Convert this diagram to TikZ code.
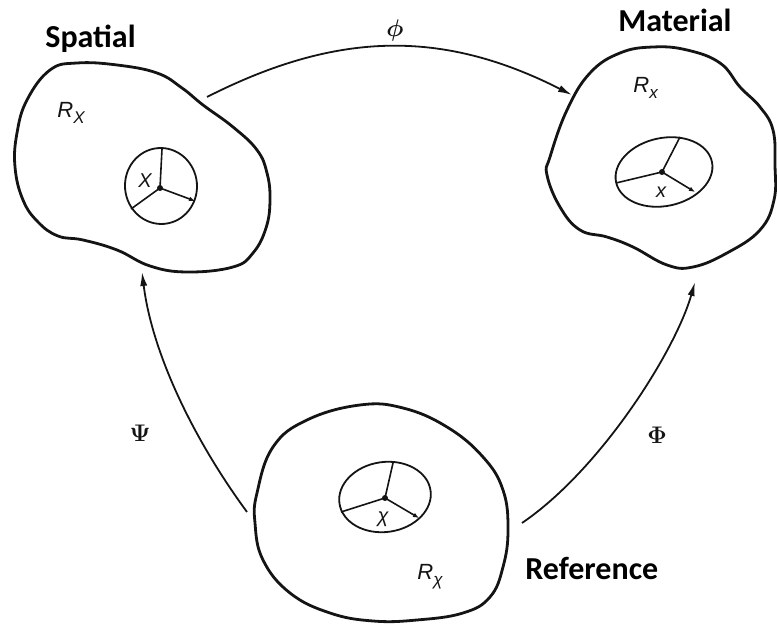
\documentclass[tikz,border=0pt]{standalone}
\usepackage{fontspec}
\newfontfamily\titlefont{Carlito}
\newfontfamily\labelfont{Liberation Sans}
\usetikzlibrary{arrows.meta}

\definecolor{ink}{RGB}{20,20,20}

\tikzset{
    line cap=round,
    line join=round,
    blob/.style={
        draw=ink,
        line width=1.4pt
    },
    cell/.style={
        draw=ink,
        line width=0.9pt
    },
    spoke/.style={
        draw=ink,
        line width=0.8pt
    },
    basis/.style={
        spoke,
        -{Latex[length=3pt,width=2.4pt]}
    },
    mapping/.style={
        draw=ink,
        line width=0.9pt,
        -{Latex[length=7pt,width=3.6pt]}
    },
    frametitle/.style={
        font=\titlefont\bfseries\fontsize{16}{19}\selectfont,
        text=black,
        inner sep=0pt,
        anchor=base west
    },
    region/.style={
        font=\labelfont\itshape\fontsize{11}{13}\selectfont,
        text=ink,
        inner sep=0pt,
        anchor=base west
    },
    point/.style={
        font=\labelfont\itshape\fontsize{10}{12}\selectfont,
        text=ink,
        inner sep=0pt
    },
    maplabel/.style={
        font=\boldmath\fontsize{13}{15}\selectfont,
        text=ink,
        inner sep=0pt
    }
}

\newcommand{\regionsub}[1]{R\raisebox{-0.45ex}{\fontsize{8.5}{10}\selectfont #1}}

\begin{document}
\begin{tikzpicture}[x=0.5pt, y=-0.5pt]
\useasboundingbox (0,0) rectangle (777,624);

% configurations
\draw[blob] plot[smooth cycle, tension=0.7] coordinates {
    (50,70) (77,63) (117,65) (157,73) (182,88) (203,105) (233,127) (257,150)
    (267,173) (270,200) (266,228) (253,253) (233,267) (187,272) (150,266)
    (117,250) (83,240) (58,236) (38,222) (23,200) (15,167) (17,133) (27,100)
};
\draw[blob] plot[smooth cycle, tension=0.7] coordinates {
    (550,157) (567,110) (590,73) (620,53) (653,47) (687,50) (720,63) (740,87)
    (760,107) (773,130) (775,165) (774,200) (760,230) (727,253) (693,267)
    (667,265) (633,247) (607,237) (580,230) (560,207) (547,175)
};
\draw[blob] plot[smooth cycle, tension=0.7] coordinates {
    (360,405) (403,408) (447,427) (483,457) (503,490) (508,530) (503,567)
    (490,597) (463,613) (417,620) (373,621) (330,613) (290,593) (263,560)
    (255,523) (257,493) (273,447) (307,420)
};

% neighbourhoods with local frames
\draw[cell] (161,186) circle[x radius=36, y radius=38, rotate=5];
\draw[spoke] (160,188) -- (162,149);
\draw[spoke] (160,188) -- (131,209);
\draw[basis] (160,188) -- (195,201);
\fill[ink] (160,188) circle[radius=3];

\draw[cell] (664,172) circle[x radius=49, y radius=34, rotate=12];
\draw[spoke] (662,172) -- (680,137);
\draw[spoke] (662,172) -- (616,183);
\draw[basis] (662,172) -- (695,192);
\fill[ink] (662,172) circle[radius=3];

\draw[cell] (385,497) circle[x radius=46, y radius=35, rotate=8];
\draw[spoke] (385,498) -- (393,463);
\draw[spoke] (385,498) -- (341,512);
\draw[basis] (385,498) -- (419,518);
\fill[ink] (385,498) circle[radius=3];

% labels
\node[frametitle] (spatial) at (45,48) {Spatial};
\node[frametitle] (material) at (618,32) {Material};
\node[frametitle] (reference) at (525,580) {Reference};

\node[region] (spatial-region) at (57,118) {\regionsub{X}};
\node[region] (material-region) at (633,93) {\regionsub{x}};
\node[region] (reference-region) at (417,580) {\regionsub{χ}};

\node[point] (spatial-point) at (145,181) {X};
\node[point] (material-point) at (661,192) {x};
\node[point] (reference-point) at (383,519) {χ};

% mappings
\coordinate (spatial-phi) at (207,97);
\coordinate (material-phi) at (572,95);
\coordinate (reference-psi) at (247,512);
\coordinate (spatial-psi) at (142,272);
\coordinate (reference-Phi) at (522,523);
\coordinate (material-Phi) at (695,282);

\draw[mapping] (spatial-phi) .. controls +(130,-66) and +(-130,-66) .. (material-phi);
\draw[mapping] (reference-psi) .. controls +(-55,-75) and +(10,80) .. (spatial-psi);
\draw[mapping] (reference-Phi) .. controls +(78,-53) and +(-20,70) .. (material-Phi);

\node[maplabel] (phi-label) at (395,31) {$\phi$};
\node[maplabel] (psi-label) at (140,433) {$\Psi$};
\node[maplabel] (Phi-label) at (657,435) {$\Phi$};

\end{tikzpicture}
\end{document}
